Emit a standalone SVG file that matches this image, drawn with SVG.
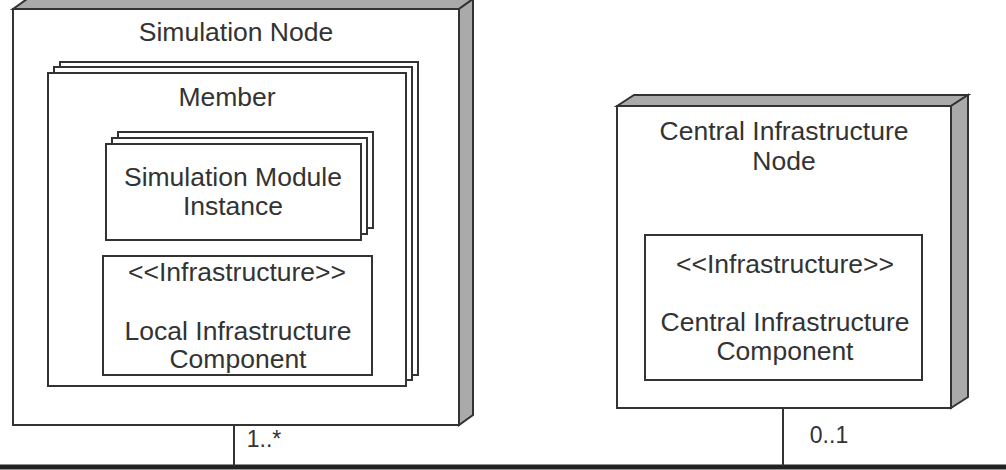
<svg xmlns="http://www.w3.org/2000/svg" width="1006" height="470" viewBox="0 0 1006 470">
<style>
.f{fill:#fff;stroke:#333;stroke-width:2}
.s{fill:#aaa;stroke:#333;stroke-width:2}
.t{font-family:"Liberation Sans",Arial,sans-serif;font-size:26.5px;fill:#333;text-anchor:middle}
.c{stroke:#333;stroke-width:2;fill:none}
</style>
<rect width="1006" height="470" fill="#fff"/>
<g id="simnode">
<polygon class="s" points="13,9 27,-1 473,-1 459,9"/>
<polygon class="s" points="459,9 473,-1 473,415 459,425"/>
<rect class="f" x="13" y="9" width="446" height="416"/>
<text class="t" x="236" y="41">Simulation Node</text>
</g>
<g id="member">
<rect class="f" x="60" y="62" width="358" height="313"/>
<rect class="f" x="54" y="67" width="358" height="313"/>
<rect class="f" x="48" y="73" width="358" height="313"/>
<text class="t" x="227" y="106">Member</text>
</g>
<g id="simmodule">
<rect class="f" x="118" y="132" width="255" height="96"/>
<rect class="f" x="112" y="138" width="255" height="96"/>
<rect class="f" x="106" y="144" width="255" height="96"/>
<text class="t" x="233" y="186">Simulation Module</text>
<text class="t" x="233" y="215">Instance</text>
</g>
<g id="localinfra">
<rect class="f" x="103" y="256" width="269" height="119"/>
<text class="t" x="237" y="281">&lt;&lt;Infrastructure&gt;&gt;</text>
<text class="t" x="238" y="340">Local Infrastructure</text>
<text class="t" x="238" y="368">Component</text>
</g>
<g id="centralnode">
<polygon class="s" points="617,106 634,95 968,95 951,106"/>
<polygon class="s" points="951,106 968,95 968,397 951,408"/>
<rect class="f" x="617" y="106" width="334" height="302"/>
<text class="t" x="784" y="140">Central Infrastructure</text>
<text class="t" x="784" y="170">Node</text>
</g>
<g id="centralinfra">
<rect class="f" x="645" y="235" width="277" height="145"/>
<text class="t" x="785" y="273">&lt;&lt;Infrastructure&gt;&gt;</text>
<text class="t" x="785" y="331">Central Infrastructure</text>
<text class="t" x="785" y="360">Component</text>
</g>
<g id="connectors">
<line x1="0" y1="467" x2="1006" y2="467" stroke="#222" stroke-width="5"/>
<line class="c" x1="234" y1="425" x2="234" y2="466"/>
<line class="c" x1="783" y1="408" x2="783" y2="466"/>
<text class="t" x="264" y="447" style="font-size:23px">1..*</text>
<text class="t" x="829" y="443" style="font-size:23px">0..1</text>
</g>
</svg>
